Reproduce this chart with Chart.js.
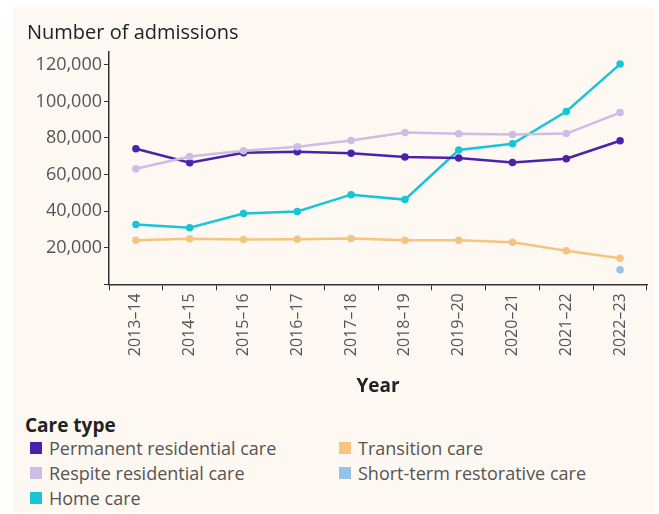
<!DOCTYPE html>
<html>
<head>
<meta charset="utf-8">
<script src="https://cdn.jsdelivr.net/npm/chart.js@4"></script>
<style>
  body { margin: 0; background: #fff; font-family: "Open Sans", sans-serif; }
  #panel { position: absolute; left: 13px; top: 7px; width: 642px; height: 505px; background: #fdf8f1; }
  #title { position: absolute; left: 14px; top: 11px; color: #222; font-size: 20px; line-height: 27px; }
  #wrap { position: absolute; left: 0; top: 0; width: 642px; height: 391px; }
  #legend { position: absolute; left: 12px; top: 405px; color: #555; font-size: 18px; }
  #legend .head { color: #222; font-size: 19px; font-weight: bold; margin-bottom: -1px; line-height: 26px; }
  #legend .grid { display: grid; grid-template-columns: 309px 300px; row-gap: 3px; }
  #legend .item { display: flex; align-items: center; height: 22px; }
  #legend .sw { width: 12px; height: 12px; margin: 0 7px 0 5px; }
</style>
</head>
<body>
<div id="panel">
  <div id="wrap"><canvas id="admissions"></canvas></div>
  <div id="title">Number of admissions</div>
  <div id="legend"></div>
</div>
<script>
// 年份
const years = ["2013–14","2014–15","2015–16","2016–17","2017–18","2018–19","2019–20","2020–21","2021–22","2022–23"];
// 各类型人数
const permanentCare  = [74100, 66500, 71900, 72500, 71600, 69600, 69000, 66600, 68700, 78500];
const respiteCare    = [63200, 69900, 73000, 75200, 78600, 83000, 82300, 81900, 82400, 93900];
const homeCare       = [32700, 30900, 38700, 39800, 49000, 46300, 73400, 76800, 94500, 120400];
const transitionCare = [24100, 24900, 24500, 24600, 25000, 24100, 24100, 23000, 18400, 14200];
const restorativeCare = [null, null, null, null, null, null, null, null, null, 8000];
// y轴刻度
const yTicks = [0, 20000, 40000, 60000, 80000, 100000, 120000];

const series = [
  { name: "Permanent residential care", data: permanentCare, color: "#4b22ab" },
  { name: "Respite residential care", data: respiteCare, color: "#cbbde6" },
  { name: "Home care", data: homeCare, color: "#18c5d8" },
  { name: "Transition care", data: transitionCare, color: "#f4c57f" },
  { name: "Short-term restorative care", data: restorativeCare, color: "#95c3e6" }
];
// 图例顺序
const legendOrder = [0, 3, 1, 4, 2];

const ctx = document.getElementById("admissions").getContext("2d");
const datasets = [];
// 后画的在上面
[3, 4, 1, 0, 2].forEach(i => {
  const s = series[i];
  datasets.push({
    label: s.name,
    data: s.data,
    borderColor: s.color,
    backgroundColor: s.color,
    borderWidth: 2.5,
    pointRadius: 2.5,
    pointHoverRadius: 3,
    tension: 0
  });
});

new Chart(ctx, {
  type: "line",
  data: { labels: years, datasets: datasets },
  options: {
    responsive: true,
    maintainAspectRatio: false,
    animation: false,
    layout: { padding: { left: 0, right: 8, top: 45, bottom: 0 } },
    plugins: {
      legend: { display: false },
      tooltip: { enabled: false }
    },
    scales: {
      x: {
        offset: true,
        grid: { display: true, drawOnChartArea: false, offset: true, color: "#333", tickLength: 6 },
        border: { color: "#333", width: 1.5 },
        ticks: { color: "#555", font: { family: "Open Sans", size: 16 }, minRotation: 90, maxRotation: 90, padding: 3 },
        title: { display: true, text: "Year", color: "#222", font: { family: "Open Sans", size: 19, weight: "bold" }, padding: { top: 16, bottom: 0 } }
      },
      y: {
        min: 0,
        max: 127000,
        afterBuildTicks: scale => { scale.ticks = yTicks.map(v => ({ value: v })); },
        afterFit: scale => { scale.width = 96; },
        grid: { display: true, drawOnChartArea: false, color: "#333", tickLength: 5 },
        border: { color: "#333", width: 1.5 },
        ticks: {
          color: "#555",
          font: { family: "Open Sans", size: 18 },
          padding: 2,
          callback: v => v === 0 ? "" : v.toLocaleString("en-US")
        }
      }
    }
  }
});

// 图例
let html = '<div class="head">Care type</div><div class="grid">';
legendOrder.forEach(i => {
  html += '<div class="item"><span class="sw" style="background:' + series[i].color + '"></span>' + series[i].name + '</div>';
});
html += '</div>';
document.getElementById("legend").innerHTML = html;
</script>
</body>
</html>
